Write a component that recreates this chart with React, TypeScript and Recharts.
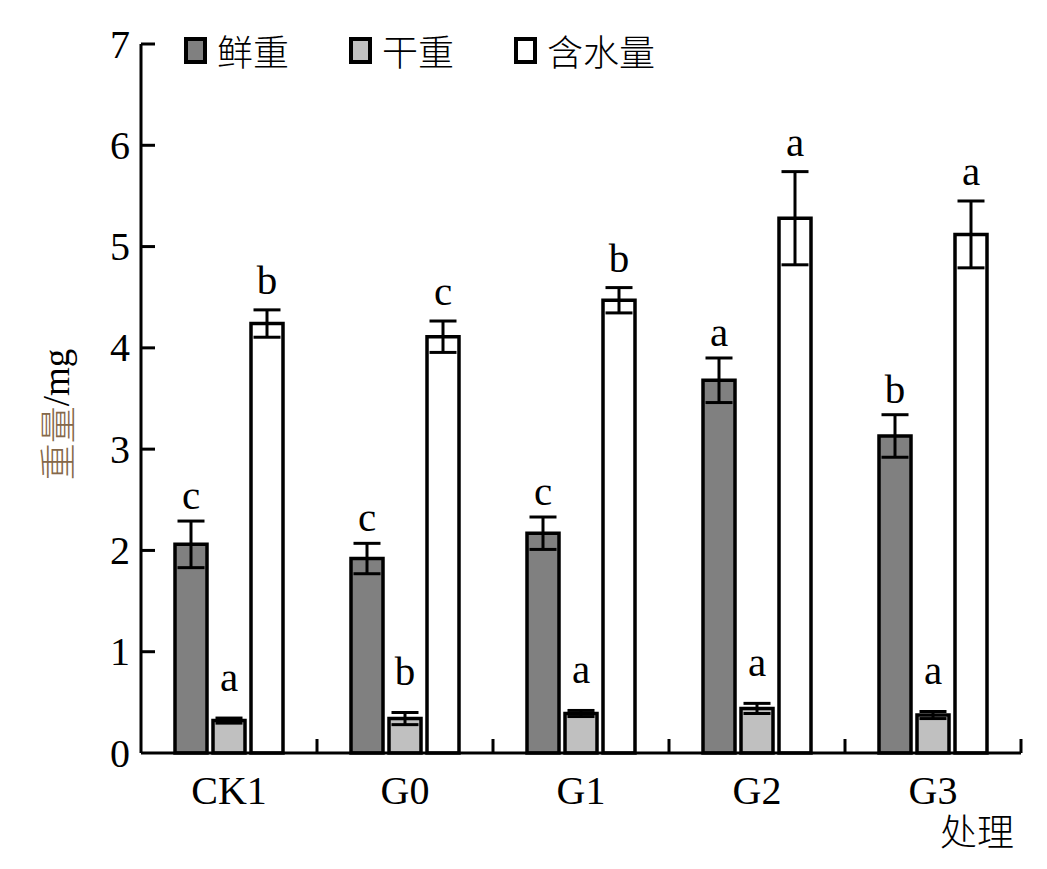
import React from 'react';
import { BarChart, Bar, XAxis, YAxis, ErrorBar, LabelList, Legend } from 'recharts';

const categories = ['CK1', 'G0', 'G1', 'G2', 'G3'];
const freshValues = [2.06, 1.92, 2.17, 3.68, 3.13];
const freshErrors = [0.23, 0.15, 0.16, 0.22, 0.21];
const freshLetters = ['c', 'c', 'c', 'a', 'b'];
const dryValues = [0.32, 0.34, 0.39, 0.44, 0.375];
const dryErrors = [0.025, 0.06, 0.03, 0.05, 0.035];
const dryLetters = ['a', 'b', 'a', 'a', 'a'];
const waterValues = [4.24, 4.11, 4.47, 5.28, 5.12];
const waterErrors = [0.135, 0.155, 0.125, 0.46, 0.33];
const waterLetters = ['b', 'c', 'b', 'a', 'a'];
const yTicks = [0, 1, 2, 3, 4, 5, 6, 7];

const seriesNames = ['鲜重', '干重', '含水量'];
const seriesFills = ['#808080', '#c0c0c0', '#ffffff'];

const data = categories.map((name, i) => ({
  name,
  fresh: freshValues[i],
  freshErr: freshErrors[i],
  dry: dryValues[i],
  dryErr: dryErrors[i],
  water: waterValues[i],
  waterErr: waterErrors[i],
}));

const FONT = '"Liberation Serif", "Times New Roman", "Noto Sans CJK SC", serif';
const CJK = '"Noto Sans CJK SC", "Liberation Serif", sans-serif';
const TICK_LEN = 14;
const Y_MARGIN = 11;
const X_MARGIN = 22;

const makeLetter = (letters: string[], errors: number[], gap: number) => (props: any) => {
  const { x, y, width, height, value, index } = props;
  const pxPerUnit = value ? height / value : 0;
  const top = y - errors[index] * pxPerUnit;
  return (
    <text
      x={x + width / 2}
      y={top - gap}
      textAnchor="middle"
      fontFamily={FONT}
      fontSize={41}
      fill="#000"
    >
      {letters[index]}
    </text>
  );
};

const YTick = (props: any) => {
  const { x, y, payload } = props;
  const axisX = x + Y_MARGIN;
  return (
    <g>
      {payload.value !== 0 && (
        <line x1={axisX} y1={y} x2={axisX + TICK_LEN} y2={y} stroke="#000" strokeWidth={3} />
      )}
      <text
        x={x}
        y={y}
        textAnchor="end"
        dominantBaseline="central"
        fontFamily={FONT}
        fontSize={40}
        fill="#000"
      >
        {payload.value}
      </text>
    </g>
  );
};

const XTick = (props: any) => {
  const { x, y, payload } = props;
  const axisY = y - X_MARGIN;
  const right = x + (payload.offset || 0);
  return (
    <g>
      <line x1={right} y1={axisY} x2={right} y2={axisY - TICK_LEN} stroke="#000" strokeWidth={3} />
      <text
        x={x}
        y={y}
        textAnchor="middle"
        dominantBaseline="hanging"
        fontFamily={FONT}
        fontSize={40}
        fill="#000"
      >
        {payload.value}
      </text>
    </g>
  );
};

const LegendContent = () => (
  <div style={{ display: 'flex', alignItems: 'center' }}>
    {seriesNames.map((n, i) => (
      <div key={n} style={{ display: 'flex', alignItems: 'center', width: 165 }}>
        <div
          style={{
            width: 15,
            height: 19,
            border: '4px solid #000',
            background: seriesFills[i],
            marginRight: 10,
          }}
        />
        <span style={{ fontFamily: CJK, fontSize: 36, fontWeight: 300, color: '#000', lineHeight: '40px' }}>{n}</span>
      </div>
    ))}
  </div>
);

const YLabel = (props: any) => {
  const { viewBox } = props;
  const cx = viewBox.x + 56;
  const cy = viewBox.y + viewBox.height / 2 + 16;
  return (
    <text
      x={cx}
      y={cy}
      transform={`rotate(-90, ${cx}, ${cy})`}
      textAnchor="middle"
      dominantBaseline="central"
      fontSize={37}
    >
      <tspan fontFamily={CJK} fontWeight={300} fill="#85684a">重量</tspan>
      <tspan fontFamily={FONT} fill="#000">/mg</tspan>
    </text>
  );
};

export default function App() {
  return (
    <div style={{ position: 'absolute', left: 0, top: 0, width: 1047, height: 869, background: '#fff' }}>
      <BarChart
        width={1047}
        height={869}
        data={data}
        margin={{ top: 44, right: 26, bottom: 16, left: 0 }}
        barCategoryGap={34}
        barGap={6}
      >
        <XAxis
          dataKey="name"
          tickLine={false}
          tickSize={0}
          tickMargin={X_MARGIN}
          axisLine={{ stroke: '#000', strokeWidth: 3 }}
          tick={<XTick />}
          height={100}
          interval={0}
          label={{
            value: '处理',
            position: 'insideBottomRight',
            offset: 7,
            fontFamily: CJK,
            fontWeight: 300,
            fontSize: 37,
            fill: '#000',
          }}
        />
        <YAxis
          domain={[0, 7]}
          ticks={yTicks}
          width={141}
          tickLine={false}
          tickSize={0}
          tickMargin={Y_MARGIN}
          axisLine={{ stroke: '#000', strokeWidth: 3 }}
          tick={<YTick />}
          label={<YLabel />}
        />
        <Legend
          layout="horizontal"
          verticalAlign="middle"
          align="center"
          content={<LegendContent />}
          wrapperStyle={{ position: 'absolute', top: 30, left: 184, width: 600, height: 40 }}
        />
        <Bar
          dataKey="fresh"
          name={seriesNames[0]}
          fill={seriesFills[0]}
          stroke="#000"
          strokeWidth={3.5}
          barSize={32}
          isAnimationActive={false}
        >
          <ErrorBar dataKey="freshErr" width={13.5} stroke="#000" strokeWidth={3} direction="y" />
          <LabelList dataKey="fresh" content={makeLetter(freshLetters, freshErrors, 12)} />
        </Bar>
        <Bar
          dataKey="dry"
          name={seriesNames[1]}
          fill={seriesFills[1]}
          stroke="#000"
          strokeWidth={3.5}
          barSize={32}
          isAnimationActive={false}
        >
          <ErrorBar dataKey="dryErr" width={13.5} stroke="#000" strokeWidth={3} direction="y" />
          <LabelList dataKey="dry" content={makeLetter(dryLetters, dryErrors, 27)} />
        </Bar>
        <Bar
          dataKey="water"
          name={seriesNames[2]}
          fill={seriesFills[2]}
          stroke="#000"
          strokeWidth={3.5}
          barSize={32}
          isAnimationActive={false}
        >
          <ErrorBar dataKey="waterErr" width={13.5} stroke="#000" strokeWidth={3} direction="y" />
          <LabelList dataKey="water" content={makeLetter(waterLetters, waterErrors, 16)} />
        </Bar>
      </BarChart>
    </div>
  );
}
